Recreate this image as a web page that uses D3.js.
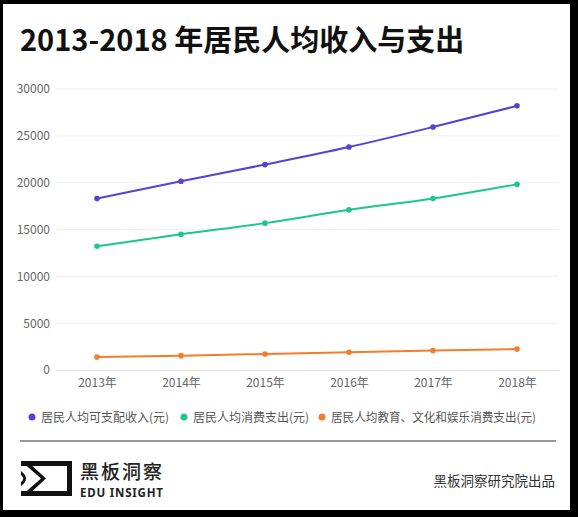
<!DOCTYPE html>
<html>
<head>
<meta charset="utf-8">
<script src="https://cdn.jsdelivr.net/npm/d3@7"></script>
<style>
  html, body { margin: 0; padding: 0; background: #000; }
  svg { display: block; font-family: "Noto Sans CJK SC", "Noto Sans", sans-serif; }
</style>
</head>
<body>
<svg id="chart" width="578" height="517"></svg>
<script>
// data
const years = ['2013年', '2014年', '2015年', '2016年', '2017年', '2018年'];
const seriesNames = ['居民人均可支配收入(元)', '居民人均消费支出(元)', '居民人均教育、文化和娱乐消费支出(元)'];
const income = [18300, 20150, 21930, 23800, 25940, 28200];
const consumption = [13210, 14490, 15680, 17100, 18300, 19820];
const education = [1390, 1530, 1710, 1900, 2070, 2230];
const yTicks = [0, 5000, 10000, 15000, 20000, 25000, 30000];
const colors = ['#5840d6', '#1cc78a', '#f47c2c'];

const svg = d3.select('#chart');

// black frame + white card
svg.append('rect').attr('width', 578).attr('height', 517).attr('fill', '#000');
svg.append('rect').attr('x', 3).attr('y', 4).attr('width', 567).attr('height', 506).attr('fill', '#fff');

svg.append('text')
  .attr('x', 20).attr('y', 51)
  .attr('font-size', 29).attr('font-weight', 700).attr('fill', '#111')
  .text('2013-2018 年居民人均收入与支出');

const plotLeft = 55, plotRight = 559, plotTop = 89, plotBottom = 370;

const x = d3.scalePoint().domain(years).range([plotLeft, plotRight]).padding(0.5);
const y = d3.scaleLinear().domain([0, 30000]).range([plotBottom, plotTop]);

// grid
svg.append('g')
  .selectAll('line')
  .data(yTicks.slice(1))
  .enter().append('line')
  .attr('x1', plotLeft).attr('x2', plotRight)
  .attr('y1', d => y(d)).attr('y2', d => y(d))
  .attr('stroke', '#f1f1f1');

const yAxis = svg.append('g')
  .attr('transform', `translate(${plotLeft - 5},0)`)
  .call(d3.axisLeft(y).tickValues(yTicks).tickSize(0).tickPadding(0).tickFormat(d3.format('d')));
yAxis.select('.domain').remove();
yAxis.selectAll('text').attr('font-size', 12).attr('fill', '#666').attr('font-family', 'Noto Sans CJK SC');

const xAxis = svg.append('g')
  .attr('transform', `translate(0,${plotBottom})`)
  .call(d3.axisBottom(x).tickSize(0).tickPadding(8));
xAxis.select('.domain').attr('stroke', '#e2e2e2');
xAxis.selectAll('text').attr('font-size', 12).attr('fill', '#666').attr('font-family', 'Noto Sans CJK SC');

const series = [income, consumption, education];
const line = d3.line()
  .x((d, i) => x(years[i]))
  .y(d => y(d))
  .curve(d3.curveMonotoneX);

series.forEach((vals, k) => {
  svg.append('path')
    .datum(vals)
    .attr('d', line)
    .attr('fill', 'none')
    .attr('stroke', colors[k])
    .attr('stroke-width', 2);
  svg.append('g')
    .selectAll('circle')
    .data(vals)
    .enter().append('circle')
    .attr('cx', (d, i) => x(years[i]))
    .attr('cy', d => y(d))
    .attr('r', 2.8)
    .attr('fill', colors[k]);
});

// legend
const legendX = [32, 184, 322];
const legend = svg.append('g');
seriesNames.forEach((name, k) => {
  legend.append('circle')
    .attr('cx', legendX[k]).attr('cy', 417).attr('r', 3.5)
    .attr('fill', colors[k]);
  const t = legend.append('text')
    .attr('x', legendX[k] + 9).attr('y', 421.5)
    .attr('font-size', 12).attr('fill', '#555')
    .text(name);
  if (k === 2) t.attr('textLength', 205).attr('lengthAdjust', 'spacingAndGlyphs');
});

// divider
svg.append('line')
  .attr('x1', 20).attr('x2', 556)
  .attr('y1', 441).attr('y2', 441)
  .attr('stroke', '#777').attr('stroke-width', 1.5);

// footer logo
const logo = svg.append('g').attr('transform', 'translate(21,461)');
logo.append('path')
  .attr('d', 'M0,0 H51 V35 H0 V30 H46 V5 H0 Z')
  .attr('fill', '#111');
logo.append('path')
  .attr('d', 'M6,0 L25,17.5 L6,35 L0,35 L0,31.5 L4,31.5 L20,17.5 L4,3.5 L0,3.5 L0,0 Z')
  .attr('fill', '#111');
logo.append('path')
  .attr('d', 'M0,10 Q10,17.5 0,25 L0,21 Q4.5,17.5 0,14 Z')
  .attr('fill', '#111');

svg.append('text')
  .attr('x', 80).attr('y', 479)
  .attr('font-size', 19).attr('font-weight', 500).attr('fill', '#222')
  .attr('letter-spacing', 2)
  .text('黑板洞察');
svg.append('text')
  .attr('x', 80).attr('y', 497)
  .attr('font-size', 11.5).attr('font-weight', 700).attr('fill', '#222')
  .attr('letter-spacing', 0.8)
  .attr('font-family', 'Noto Sans')
  .text('EDU INSIGHT');

svg.append('text')
  .attr('x', 555).attr('y', 486)
  .attr('text-anchor', 'end')
  .attr('font-size', 13.5).attr('fill', '#333')
  .text('黑板洞察研究院出品');
</script>
</body>
</html>
